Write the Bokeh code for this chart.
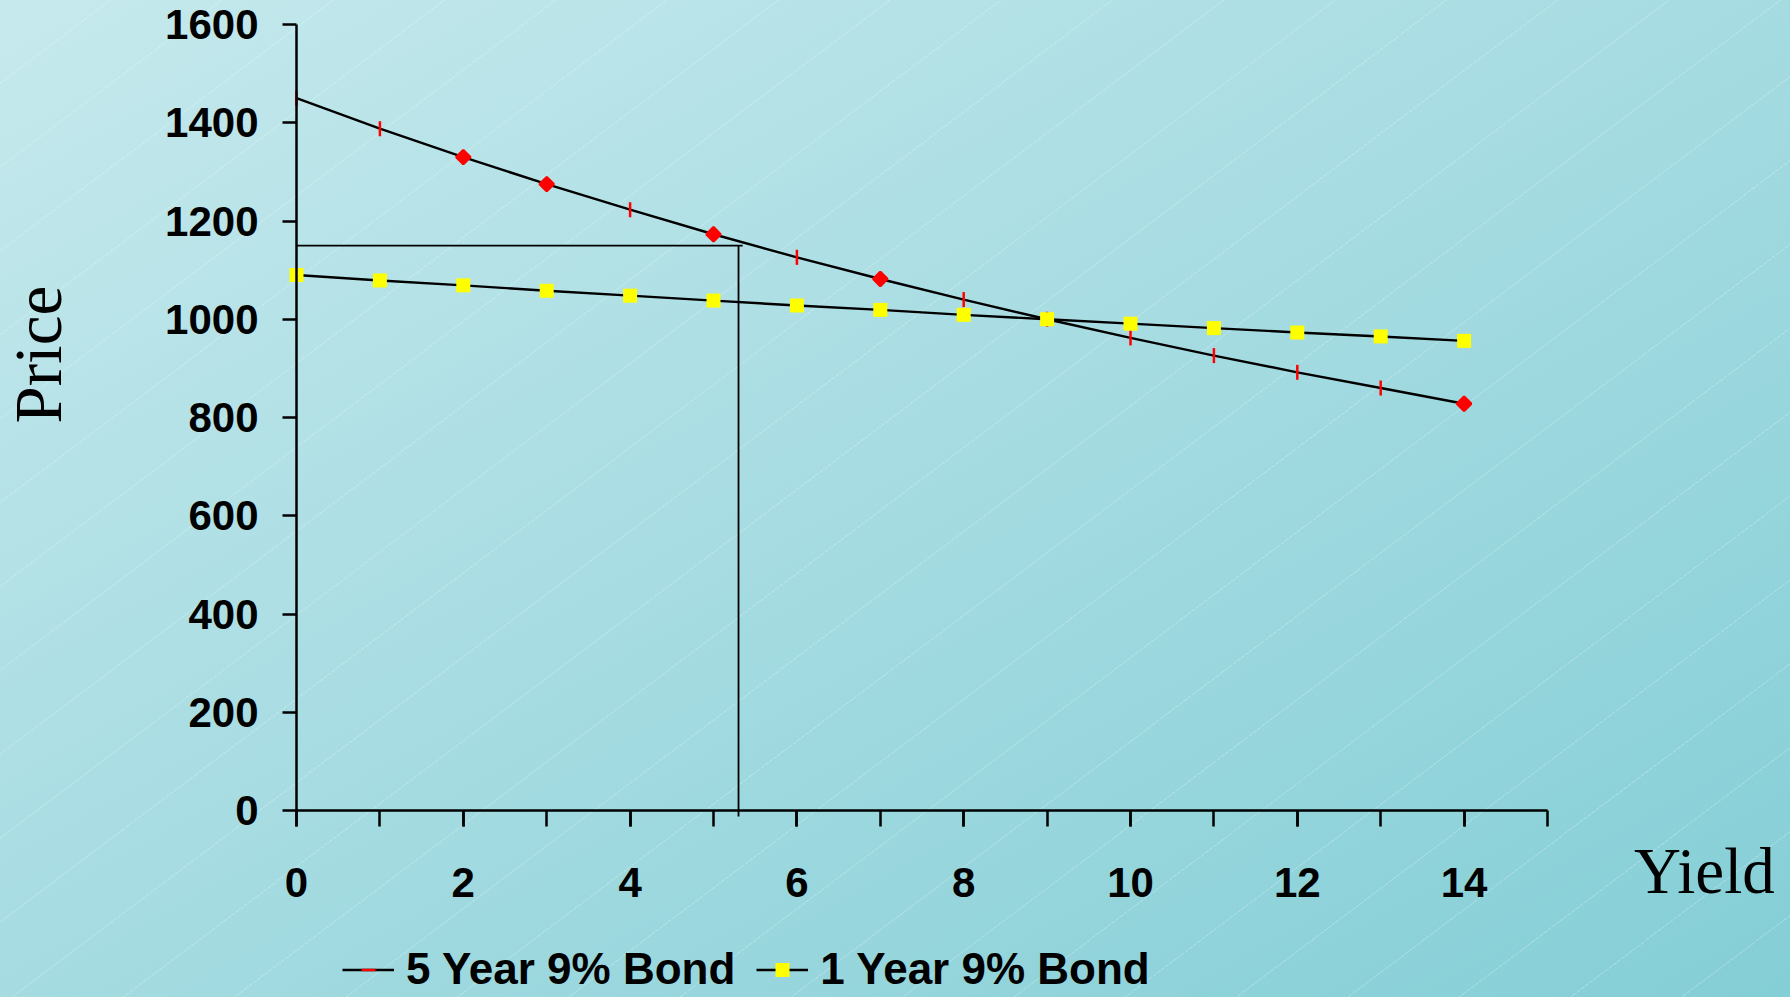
import math
from bokeh.plotting import figure
from bokeh.models import (Range1d, SingleIntervalTicker, Legend, LegendItem, Label,
                          ColumnDataSource, GlobalInlineStyleSheet)
from bokeh.embed import file_html
from bokeh.resources import INLINE

# ---------------- data ----------------
yields = [0, 1, 2, 3, 4, 5, 6, 7, 8, 9, 10, 11, 12, 13, 14]
five_year = [1450, 1388, 1330, 1275, 1223, 1173, 1126, 1082, 1040, 1000, 962, 926, 892, 860, 828]
one_year = [1090, 1079, 1069, 1058, 1048, 1038, 1028, 1019, 1009, 1000, 991, 982, 973, 965, 956]
five_year_markers = ["dash", "dash", "diamond", "diamond", "dash", "diamond", "dash", "diamond",
                     "dash", "dash", "dash", "dash", "dash", "dash", "diamond"]
series_names = ["5 Year 9% Bond", "1 Year 9% Bond"]
x_title = "Yield"
y_title = "Price"
ref_yield = 5.3
ref_price = 1150

# ---------------- layout / styles ----------------
W, H = 1790, 997
X_ORIGIN_PX, X_END_PX = 296, 1547        # pixel of yield 0 and 15
Y_ORIGIN_PX, Y_TOP_PX = 810, 24          # pixel of price 0 and 1600
x_per_px = 15 / (X_END_PX - X_ORIGIN_PX)
y_per_px = 1600 / (Y_ORIGIN_PX - Y_TOP_PX)

marker_kind = {"dash": "dash", "diamond": "square"}
marker_angle = {"dash": math.pi / 2, "diamond": math.pi / 4}
marker_size = {"dash": 15, "diamond": 10}

css = """
html {
  min-height: 100%;
  background-color: #a6dbe1;
  background-image:
    repeating-linear-gradient(143deg, rgba(255,255,255,0) 0px, rgba(255,255,255,0) 66px,
                              rgba(255,255,255,0.2) 66px, rgba(255,255,255,0.2) 67px),
    linear-gradient(to bottom right, #c6e9ed, #84ced6);
  background-attachment: fixed;
}
body { background: transparent; }
"""

p = figure(width=W, height=H, output_backend="svg", toolbar_location=None,
           x_range=Range1d(-X_ORIGIN_PX * x_per_px, 15 + (W - X_END_PX) * x_per_px),
           y_range=Range1d(-(H - Y_ORIGIN_PX) * y_per_px, 1600 + Y_TOP_PX * y_per_px),
           min_border_left=0, min_border_right=0, min_border_top=0, min_border_bottom=0,
           background_fill_alpha=0, border_fill_alpha=0, outline_line_color=None)
p.stylesheets = [GlobalInlineStyleSheet(css=css)]
p.xgrid.visible = False
p.ygrid.visible = False

# axes
for ax in (p.xaxis, p.yaxis):
    ax.fixed_location = 0
    ax.axis_line_color = "black"
    ax.axis_line_width = 2.5
    ax.major_tick_line_color = "black"
    ax.major_tick_line_width = 2.5
    ax.minor_tick_line_color = "black"
    ax.minor_tick_line_width = 2.5
    ax.major_tick_in = 0
    ax.minor_tick_in = 0
    ax.major_label_text_font = "Liberation Sans"
    ax.major_label_text_font_style = "bold"
    ax.major_label_text_font_size = "42px"
    ax.major_label_text_color = "black"

p.xaxis.bounds = (0, 15)
p.xaxis.ticker = SingleIntervalTicker(interval=2, num_minor_ticks=2)
p.xaxis.major_tick_out = 16
p.xaxis.minor_tick_out = 16
p.xaxis.major_label_standoff = 41

p.yaxis.bounds = (0, 1600)
p.yaxis.ticker = SingleIntervalTicker(interval=200, num_minor_ticks=0)
p.yaxis.major_tick_out = 14
p.yaxis.minor_tick_out = 0
p.yaxis.major_label_standoff = 24

# reference lines
p.segment(x0=[0], y0=[ref_price], x1=[ref_yield + 0.05], y1=[ref_price], line_color="black", line_width=1.8)
p.segment(x0=[ref_yield], y0=[ref_price], x1=[ref_yield], y1=[-12], line_color="black", line_width=1.8)

src5 = ColumnDataSource(dict(
    x=yields, y=five_year,
    marker=[marker_kind[m] for m in five_year_markers],
    angle=[marker_angle[m] for m in five_year_markers],
    size=[marker_size[m] for m in five_year_markers]))
src1 = ColumnDataSource(dict(x=yields, y=one_year))

l5 = p.line("x", "y", source=src5, line_color="black", line_width=2.4)
l1 = p.line("x", "y", source=src1, line_color="black", line_width=2.4)
s5 = p.scatter("x", "y", source=src5, marker="marker", angle="angle", size="size",
               line_color="#ff0000", fill_color="#ff0000", line_width=2.5)
s1 = p.scatter("x", "y", source=src1, marker="square", size=14,
               line_color=None, fill_color="#ffff00")

legend = Legend(items=[LegendItem(label=series_names[0], renderers=[l5, s5], index=0),
                       LegendItem(label=series_names[1], renderers=[l1, s1], index=0)],
                orientation="horizontal", location=(342, 3),
                glyph_width=52, glyph_height=35, label_standoff=12, spacing=21,
                padding=0, margin=0, border_line_color=None, background_fill_alpha=0,
                label_text_font="Liberation Sans", label_text_font_style="bold",
                label_text_font_size="44px", label_text_color="black")
p.add_layout(legend)

p.add_layout(Label(x=-3.10, y=928, text=y_title,
                   angle=math.pi / 2, text_align="center", text_baseline="alphabetic",
                   text_font="Liberation Serif", text_font_size="67px", text_color="black"))
p.add_layout(Label(x=16.88, y=-123, text=x_title,
                   text_align="center", text_baseline="alphabetic",
                   text_font="Liberation Serif", text_font_size="65px", text_color="black"))

open("out.html", "w").write(file_html(p, INLINE))
